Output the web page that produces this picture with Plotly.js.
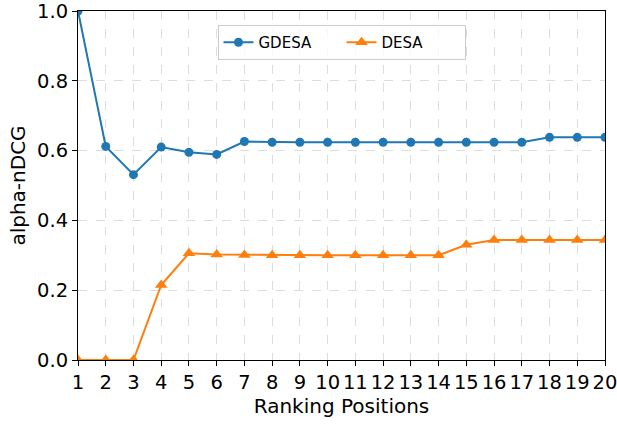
<!DOCTYPE html>
<html>
<head>
<meta charset="utf-8">
<script src="https://cdn.plot.ly/plotly-3.0.1.min.js"></script>
<style>html,body{margin:0;padding:0;background:#fff;}#chart{width:617px;height:426px;}</style>
</head>
<body>
<div id="chart"></div>
<script>
var positions = [1,2,3,4,5,6,7,8,9,10,11,12,13,14,15,16,17,18,19,20];
var gdesa = [1.0,0.612,0.531,0.610,0.595,0.589,0.626,0.624,0.624,0.624,0.624,0.624,0.624,0.624,0.624,0.624,0.624,0.638,0.638,0.638];
var desa = [0,0,0,0.215,0.306,0.302,0.301,0.300,0.300,0.300,0.300,0.300,0.300,0.300,0.330,0.344,0.344,0.344,0.344,0.344];
var seriesNames = ["GDESA","DESA"];

var font = "DejaVu Sans, sans-serif";
var traces = [
  {x: positions, y: gdesa, name: seriesNames[0], type: "scatter", mode: "lines+markers",
   line: {color: "#1f77b4", width: 2}, marker: {symbol: "circle", size: 9, color: "#1f77b4"}},
  {x: positions, y: desa, name: seriesNames[1], type: "scatter", mode: "lines+markers",
   line: {color: "#ff7f0e", width: 2}, marker: {symbol: "triangle-up", size: 11, color: "#ff7f0e"}}
];
var layout = {
  width: 617, height: 426,
  margin: {l: 78, r: 12, t: 11, b: 66},
  paper_bgcolor: "#fff", plot_bgcolor: "#fff",
  font: {family: font, color: "#000"},
  showlegend: true,
  legend: {orientation: "h", x: 0.5, xanchor: "center", y: 0.96, yanchor: "top",
    bordercolor: "#cccccc", borderwidth: 1, bgcolor: "rgba(255,255,255,0.8)",
    font: {family: font, size: 15}, entrywidth: 78, entrywidthmode: "pixels"},
  xaxis: {range: [1, 20], tickvals: positions, ticktext: positions.map(String),
    showline: true, mirror: true, linecolor: "#000", linewidth: 1,
    ticks: "outside", ticklen: 5, tickcolor: "#000", ticklabeloverflow: "allow",
    showgrid: true, gridcolor: "#dddddd", griddash: "dash", gridwidth: 1, zeroline: false,
    tickfont: {family: font, size: 19.5},
    title: {text: "Ranking Positions", font: {family: font, size: 20}, standoff: 4}},
  yaxis: {range: [0, 1], tickvals: [0,0.2,0.4,0.6,0.8,1.0], ticktext: ["0.0","0.2","0.4","0.6","0.8","1.0"],
    showline: true, mirror: true, linecolor: "#000", linewidth: 1,
    ticks: "outside", ticklen: 5, tickcolor: "#000", ticklabeloverflow: "allow",
    showgrid: true, gridcolor: "#dddddd", griddash: "dash", gridwidth: 1, zeroline: false,
    tickfont: {family: font, size: 19.5},
    title: {text: "alpha-nDCG", font: {family: font, size: 20}, standoff: 6}}
};
Plotly.newPlot("chart", traces, layout, {displayModeBar: false, staticPlot: true});
</script>
</body>
</html>
